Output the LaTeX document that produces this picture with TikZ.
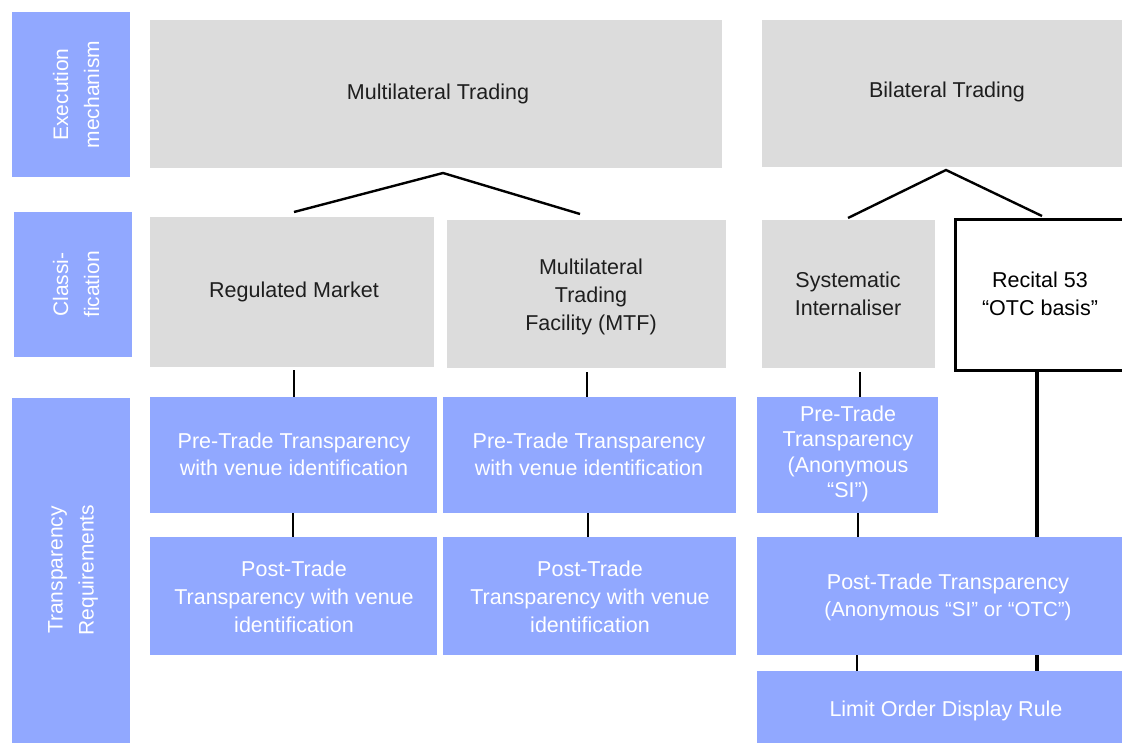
\documentclass[tikz,border=0pt]{standalone}
\usepackage{fontspec}
\setmainfont{Liberation Sans}
\definecolor{blu}{RGB}{145,168,255}
\definecolor{gry}{RGB}{220,220,220}
\definecolor{txt}{RGB}{30,30,30}
\begin{document}
\begin{tikzpicture}[x=1pt,y=-1pt,
  lbl/.style={fill=blu,text=white,font=\fontsize{21}{31}\selectfont,align=center},
  gbox/.style={fill=gry,text=txt,font=\fontsize{21.5}{28}\selectfont,align=center},
  bbox/.style={fill=blu,text=white,font=\fontsize{21.5}{27}\selectfont,align=center},
  wire/.style={draw=black,line width=2.4pt}]
\useasboundingbox (0,0) rectangle (1122,743);
% left labels
\path[lbl] (12,12) rectangle (130,177);
\node[lbl,rotate=90,fill=none] (l1) at (76,94.5) {Execution\\mechanism};
\path[lbl] (14,212) rectangle (132,357);
\node[lbl,rotate=90,fill=none] (l2) at (76,284.5) {Classi-\\fication};
\path[lbl] (12,398) rectangle (130,743);
\node[lbl,rotate=90,fill=none] (l3) at (73,570) {Transparency\\Requirements};
% level 1
\path[gbox] (150,20) rectangle (722,168);
\node[gbox,fill=none] (mt) at (438,94) {Multilateral Trading};
\path[gbox] (762,20) rectangle (1122,167);
\node[gbox,fill=none] (bt) at (947,92) {Bilateral Trading};
% level 2
\path[gbox] (150,217) rectangle (434,367);
\node[gbox,fill=none] (rm) at (294,292) {Regulated Market};
\path[gbox] (447,220) rectangle (726,368);
\node[gbox,fill=none] (mtf) at (591,297) {Multilateral\\Trading\\Facility (MTF)};
\path[gbox] (762,220) rectangle (935,368);
\node[gbox,fill=none] (si) at (848,294) {Systematic\\Internaliser};
\draw[line width=3pt,fill=white] (955.5,219.5) rectangle (1124,370);
\node[font=\fontsize{21.5}{28}\selectfont,align=center,text=black] (rec) at (1040,294) {Recital 53\\“OTC basis”};
% connectors level 1-2
\coordinate (a1) at (443,173);
\coordinate (a2) at (946,170);
\draw[wire] (294,212) -- (a1) -- (580,214);
\draw[wire] (848,218) -- (a2) -- (1042,216);
% verticals
\draw[wire] (294,370) -- (294,397);
\draw[wire] (587,372) -- (587,397);
\draw[wire] (860,372) -- (860,397);
\draw[wire] (293,513) -- (293,537);
\draw[wire] (588,513) -- (588,537);
\draw[wire] (858,513) -- (858,537);
\draw[line width=3.4pt] (1037,370) -- (1037,537);
\draw[wire] (857,655) -- (857,671);
\draw[line width=3.4pt] (1037,655) -- (1037,671);
% level 3
\path[bbox] (150,397) rectangle (437,513);
\node[bbox,fill=none] (prm) at (294,454) {Pre-Trade Transparency\\with venue identification};
\path[bbox] (443,397) rectangle (736,513);
\node[bbox,fill=none] (pmtf) at (589,454) {Pre-Trade Transparency\\with venue identification};
\path[bbox] (757,397) rectangle (938,513);
\node[bbox,fill=none,font=\fontsize{21.5}{25.5}\selectfont] (psi) at (848,454) {Pre-Trade\\Transparency\\(Anonymous\\“SI”)};
\path[bbox] (150,537) rectangle (437,655);
\node[bbox,fill=none,font=\fontsize{21.5}{28}\selectfont] (orm) at (294,597) {Post-Trade\\Transparency with venue\\identification};
\path[bbox] (443,537) rectangle (736,655);
\node[bbox,fill=none,font=\fontsize{21.5}{28}\selectfont] (omtf) at (590,597) {Post-Trade\\Transparency with venue\\identification};
\path[bbox] (757,537) rectangle (1122,655);
\node[bbox,fill=none] (osi) at (948,597) {Post-Trade Transparency\\{\fontsize{20.5}{26}\selectfont (Anonymous “SI” or “OTC”)}};
\path[bbox] (757,671) rectangle (1122,743);
\node[bbox,fill=none] (lod) at (946,711) {Limit Order Display Rule};
\end{tikzpicture}
\end{document}
